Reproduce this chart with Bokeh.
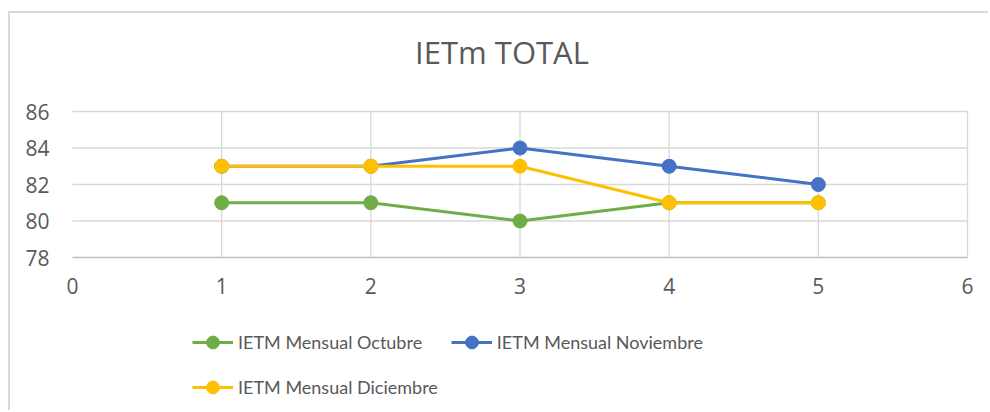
from bokeh.plotting import figure
from bokeh.models import (ColumnDataSource, FixedTicker, Legend, LegendItem, Range1d, Label)
from bokeh.embed import file_html
from bokeh.resources import INLINE

# ---- data ----
x_vals = [1, 2, 3, 4, 5]
octubre = [81, 81, 80, 81, 81]
noviembre = [83, 83, 84, 83, 82]
diciembre = [83, 83, 83, 81, 81]
series_names = ["IETM Mensual Octubre", "IETM Mensual Noviembre", "IETM Mensual Diciembre"]
series_colors = ["#70ad47", "#4472c4", "#ffc000"]
x_ticks = [0, 1, 2, 3, 4, 5, 6]
y_ticks = [78, 80, 82, 84, 86]
title_text = "IETm TOTAL"

FONT = "Open Sans"
LEG_FONT = "Lato"
TXT = "#595959"
GRID = "#d9d9d9"

# layout (page pixels)
OX, OY = 10, 13            # canvas origin after outer border
W, H = 990 - OX, 412 - OY
F_L, F_R, F_T, F_B = 72, 967, 111, 257   # plot box of 0..6 / 78..86
x_lo, x_hi = x_ticks[0], x_ticks[-1]
y_lo, y_hi = y_ticks[0], y_ticks[-1]
xs = (F_R - F_L) / (x_hi - x_lo)
ys = (F_B - F_T) / (y_hi - y_lo)
x_range = Range1d(x_lo - (F_L - OX) / xs, x_hi + (990 - F_R) / xs)
y_range = Range1d(y_lo - (412 - F_B) / ys, y_hi + (F_T - OY) / ys)

p = figure(width=W, height=H, output_backend="svg", toolbar_location=None,
           x_range=x_range, y_range=y_range,
           min_border_left=0, min_border_right=0, min_border_top=0, min_border_bottom=0)
p.styles = {"border-top": "2px solid #d9d9d9", "border-left": "2px solid #d9d9d9",
            "margin-left": "8px", "margin-top": "11px"}
p.outline_line_color = None
p.background_fill_color = "white"
p.border_fill_color = "white"

# axes (fixed inside the frame)
p.xaxis.ticker = FixedTicker(ticks=x_ticks)
p.yaxis.ticker = FixedTicker(ticks=y_ticks)
for ax in (p.xaxis[0], p.yaxis[0]):
    ax.major_tick_line_color = None
    ax.minor_tick_line_color = None
    ax.major_tick_out = 0
    ax.major_tick_in = 0
    ax.minor_tick_out = 0
    ax.minor_tick_in = 0
    ax.major_label_text_font = FONT
    ax.major_label_text_font_size = "21px"
    ax.major_label_text_color = TXT
p.xaxis.fixed_location = y_lo
p.yaxis.fixed_location = x_lo
p.xaxis.bounds = (x_lo, x_hi)
p.yaxis.bounds = (y_lo, y_hi)
p.yaxis.axis_line_color = None
p.xaxis.axis_line_color = "#bfbfbf"
p.xaxis.axis_line_width = 1.3
p.yaxis.major_label_standoff = 23
p.xaxis.major_label_standoff = 20

# grid lines limited to the plot box
p.xgrid.visible = False
p.ygrid.visible = False
xg = x_ticks[1:]
yg = y_ticks[1:]
p.segment(x0=xg, x1=xg, y0=[y_lo] * len(xg), y1=[y_hi] * len(xg),
          line_color=GRID, line_width=1.3)
p.segment(x0=[x_lo] * len(yg), x1=[x_hi] * len(yg), y0=yg, y1=yg,
          line_color=GRID, line_width=1.3)

renderers = {}
for name, vals, col in zip(series_names, [octubre, noviembre, diciembre], series_colors):
    src = ColumnDataSource(dict(x=x_vals, y=vals))
    ln = p.line("x", "y", source=src, line_color=col, line_width=3)
    sc = p.scatter("x", "y", source=src, size=14, fill_color=col, line_color=col)
    renderers[name] = [ln, sc]

# column-major fill: col 1 = Octubre, Diciembre ; col 2 = Noviembre
leg_order = [series_names[0], series_names[2], series_names[1]]
items = [LegendItem(label=n, renderers=renderers[n]) for n in leg_order]
legend = Legend(items=items, ncols=2, location=(192 - OX, 412 - 403),
                glyph_width=41, glyph_height=32, label_height=32,
                label_standoff=5, spacing=13, padding=0, margin=0,
                border_line_color=None, background_fill_alpha=0,
                label_text_font=LEG_FONT, label_text_font_size="18px",
                label_text_color=TXT)
p.add_layout(legend, "center")

title = Label(x=501.5 - OX, y=412 - 51, x_units="screen", y_units="screen",
              text=title_text, text_font=FONT, text_font_size="31px",
              text_color=TXT, text_align="center", text_baseline="middle")
p.add_layout(title)

open("out.html", "w").write(file_html(p, INLINE))
